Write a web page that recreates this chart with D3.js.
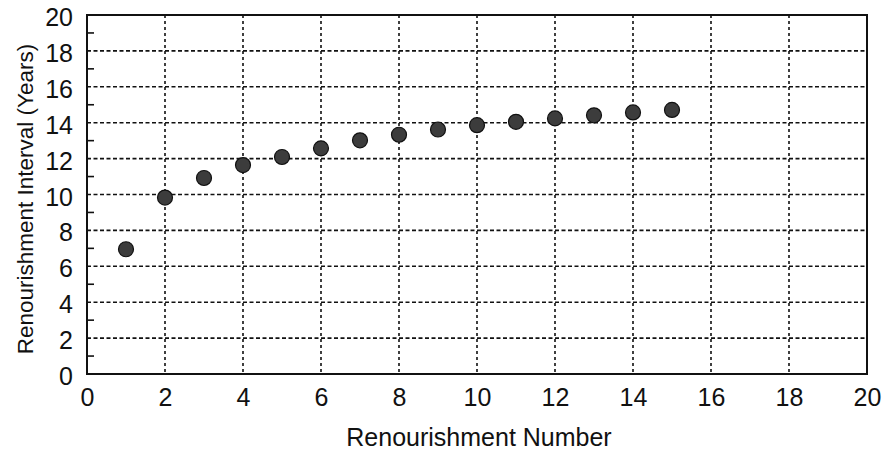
<!DOCTYPE html>
<html>
<head>
<meta charset="utf-8">
<script src="https://cdn.jsdelivr.net/npm/d3@7"></script>
<style>
  body { margin: 0; background: #fff; }
  svg { display: block; font-family: "Liberation Sans", Arial, sans-serif; }
</style>
</head>
<body>
<div id="chart"></div>
<script>
// Renourishment number vs. interval (years)
const renourishmentNumber = [1, 2, 3, 4, 5, 6, 7, 8, 9, 10, 11, 12, 13, 14, 15];
const intervalYears = [6.95, 9.83, 10.92, 11.64, 12.09, 12.57, 13.02, 13.33, 13.62, 13.86, 14.05, 14.24, 14.41, 14.57, 14.71];
const xTicks = [0, 2, 4, 6, 8, 10, 12, 14, 16, 18, 20];
const yTicks = [0, 2, 4, 6, 8, 10, 12, 14, 16, 18, 20];
const yMinorTicks = [1, 3, 5, 7, 9, 11, 13, 15, 17, 19];

const W = 887, H = 451;
const margin = {top: 15, right: 20, bottom: 77, left: 87};
const width = W - margin.left - margin.right;
const height = H - margin.top - margin.bottom;

const svg = d3.select("#chart").append("svg")
    .attr("width", W)
    .attr("height", H);

const g = svg.append("g")
    .attr("transform", `translate(${margin.left},${margin.top})`);

const x = d3.scaleLinear().domain([0, 20]).range([0, width]);
const y = d3.scaleLinear().domain([0, 20]).range([height, 0]);

// dashed grid lines (skip the frame edges)
g.append("g").selectAll("line")
    .data(xTicks.filter(d => d > 0 && d < 20))
    .join("line")
    .attr("x1", d => x(d)).attr("x2", d => x(d))
    .attr("y1", 0).attr("y2", height)
    .attr("stroke", "#111")
    .attr("stroke-width", 1.6)
    .attr("stroke-dasharray", "3,3");

g.append("g").selectAll("line")
    .data(yTicks.filter(d => d > 0 && d < 20))
    .join("line")
    .attr("x1", 0).attr("x2", width)
    .attr("y1", d => y(d)).attr("y2", d => y(d))
    .attr("stroke", "#111")
    .attr("stroke-width", 1.6)
    .attr("stroke-dasharray", "4,2.5");

// minor ticks on the left axis, pointing inward
g.append("g").selectAll("line")
    .data(yMinorTicks)
    .join("line")
    .attr("x1", 0).attr("x2", 7)
    .attr("y1", d => y(d)).attr("y2", d => y(d))
    .attr("stroke", "#111")
    .attr("stroke-width", 1.6);

// frame
g.append("rect")
    .attr("width", width)
    .attr("height", height)
    .attr("fill", "none")
    .attr("stroke", "#111")
    .attr("stroke-width", 2);

// axes (labels only, frame drawn above)
const xAxis = g.append("g")
    .attr("transform", `translate(0,${height})`)
    .call(d3.axisBottom(x).tickValues(xTicks).tickSize(0).tickPadding(14));
xAxis.select(".domain").remove();
xAxis.selectAll("text")
    .style("font-size", "25px")
    .attr("fill", "#111");

const yAxis = g.append("g")
    .call(d3.axisLeft(y).tickValues(yTicks).tickSize(0).tickPadding(14));
yAxis.select(".domain").remove();
yAxis.selectAll("text")
    .style("font-size", "25px")
    .attr("dy", "0.42em")
    .attr("fill", "#111");

// points
g.append("g").selectAll("circle")
    .data(renourishmentNumber.map((n, i) => ({n, v: intervalYears[i]})))
    .join("circle")
    .attr("cx", d => x(d.n))
    .attr("cy", d => y(d.v))
    .attr("r", 7.5)
    .attr("fill", "#3c3c3c")
    .attr("stroke", "#111")
    .attr("stroke-width", 1.2);

// axis titles
svg.append("text")
    .attr("x", 479)
    .attr("y", 446)
    .attr("text-anchor", "middle")
    .style("font-size", "25px")
    .attr("fill", "#111")
    .text("Renourishment Number");

svg.append("text")
    .attr("transform", "translate(33,199) rotate(-90)")
    .attr("text-anchor", "middle")
    .style("font-size", "22.5px")
    .attr("fill", "#111")
    .text("Renourishment Interval (Years)");
</script>
</body>
</html>
